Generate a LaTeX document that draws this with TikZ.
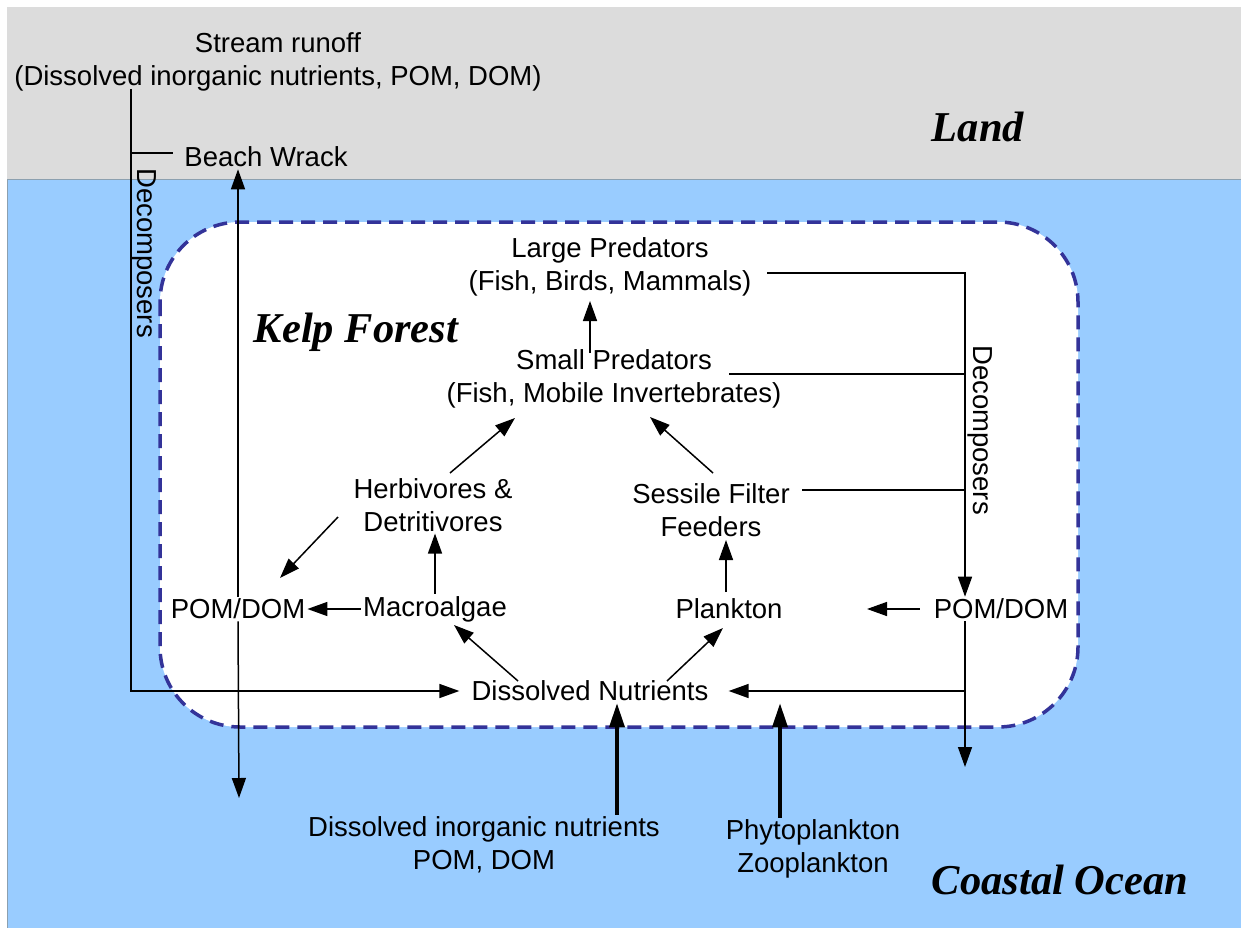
\documentclass[tikz,border=0pt]{standalone}
\usepackage{fontspec}
\setmainfont{Liberation Sans}
\newfontfamily\regionfont{Liberation Serif}
\usetikzlibrary{positioning, arrows.meta, calc}
\definecolor{landgray}{RGB}{220,220,220}
\definecolor{seablue}{RGB}{153,204,255}
\definecolor{shoreline}{RGB}{140,160,175}
\definecolor{kelpline}{RGB}{51,51,153}

\begin{document}
\begin{tikzpicture}[x=1pt,y=-1pt]
		\tikzstyle{txt} = [font=\fontsize{27.5}{32.5}\selectfont, align=center, inner sep=2pt]
		\tikzstyle{region} = [font=\regionfont\bfseries\itshape\fontsize{42.5}{50}\selectfont, inner sep=0pt]
		\tikzstyle{arr} = [-{Triangle[length=20pt,width=14pt]}, line width=1.5pt]
		\tikzstyle{bigarr} = [-{Triangle[length=24pt,width=15pt]}, line width=3.5pt]
		\tikzstyle{line} = [line width=1.5pt]
		\tikzstyle{zone} = [draw=kelpline, line width=3.5pt, dash pattern=on 14pt off 8pt, fill=white, rounded corners=80pt]
		\useasboundingbox (0,0) rectangle (1241,928);
		% land and sea
		\fill [landgray] (7,7) rectangle (1241,180);
		\fill [seablue] (7,180) rectangle (1241,928);
		\draw [shoreline, line width=1pt] (7,180) -- (1241,180);
		\draw [shoreline, line width=1pt] (7.5,180) -- (7.5,928);
		\draw [zone] (160,222) rectangle (1078,727);
		% labels
		\node [txt] (sr) at (278,62) {Stream runoff\\(Dissolved inorganic nutrients, POM, DOM)};
		\node [txt] (bw) at (266,157) {Beach Wrack};
		\node [region] (land) at (978,127) {Land};
		\node [region] (kelp) at (356,332) {Kelp Forest};
		\node [region] (ocean) at (1060,880) {Coastal Ocean};
		\node [txt] (lp) at (610,267) {Large Predators\\(Fish, Birds, Mammals)};
		\node [txt] (sp) at (614,379) {Small Predators\\(Fish, Mobile Invertebrates)};
		\node [txt] (hd) at (433,505) {Herbivores \&\\Detritivores};
		\node [txt] (sf) at (711,510) {Sessile Filter\\Feeders};
		\node [txt] (pl) at (238,609) {POM/DOM};
		\node [txt] (ma) at (435,609) {Macroalgae};
		\node [txt] (pk) at (729,609) {Plankton};
		\node [txt] (pr) at (1001,609) {POM/DOM};
		\node [txt] (dn) at (590,691) {Dissolved Nutrients};
		\node [txt] (din) at (484,845) {Dissolved inorganic nutrients\\POM, DOM};
		\node [txt] (pz) at (813,849) {Phytoplankton\\Zooplankton};
		\node [txt, rotate=-90] (dl) at (144,253) {Decomposers};
		\node [txt, rotate=-90] (dr) at (980,430) {Decomposers};
		% left side: runoff and wrack
		\coordinate (srt) at (131,89);
		\draw [arr, shorten >=10pt] (srt) |- (dn.west);
		\draw [line, shorten >=9pt] (srt |- 0,153) -- ([yshift=4pt]bw.west);
		\draw [arr] (pl.north) -- (pl.north |- bw.south);
		\coordinate (plout) at (239,798);
		\draw [arr] (pl.south) -- (plout);
		% food web
		\draw [arr] (ma.west) -- (pl.east);
		\draw [arr] (ma.north) -- (ma.north |- hd.south);
		\draw [arr] ([shift={(-95,12)}]hd.center) -- ([shift={(42,-31)}]pl.center);
		\draw [arr] ([shift={(17,-32)}]hd.center) -- ([shift={(-99,39)}]sp.center);
		\draw [arr] ([shift={(-24,-26)}]sp.center) -- ([shift={(-20,34)}]lp.center);
		\draw [arr] ([shift={(2,-37)}]sf.center) -- ([shift={(36,38)}]sp.center);
		\draw [arr] ([shift={(-3,-17)}]pk.center) -- ([shift={(15,30)}]sf.center);
		\draw [arr] ([shift={(-72,-10)}]dn.center) -- ([shift={(19,16)}]ma.center);
		\draw [arr] ([shift={(77,-10)}]dn.center) -- ([shift={(-6,19)}]pk.center);
		% right side: decomposers
		\coordinate (dtop) at (965,273);
		\draw [arr] ([shift={(157,6)}]lp.center) -- (dtop) -- (dtop |- pr.north);
		\draw [line] ([shift={(115,-5)}]sp.center) coordinate (s1) -- (s1 -| dtop);
		\draw [line] ([shift={(91,-20)}]sf.center) coordinate (s2) -- (s2 -| dtop);
		\coordinate (prl) at (867,609);
		\draw [arr, shorten <=12pt] (pr.west) -- (prl);
		\coordinate (prout) at (965,767);
		\draw [arr] (dtop |- pr.south) -- (prout);
		\draw [arr, shorten >=18pt] (dtop |- dn) -- (dn.east);
		% inputs from the ocean
		\coordinate (dint) at ([xshift=133pt]din.north);
		\coordinate (pzt) at ([xshift=-33pt]pz.north);
		\draw [bigarr] (dint) -- (dint |- dn.south);
		\draw [bigarr] (pzt) -- (pzt |- dn.south);
\end{tikzpicture}
\end{document}
